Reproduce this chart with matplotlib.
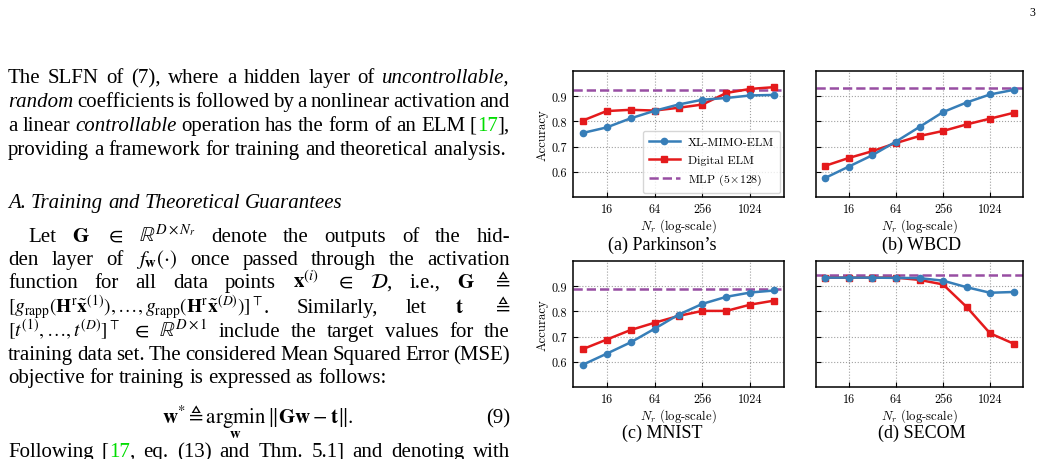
import matplotlib
matplotlib.use('Agg')
import matplotlib.pyplot as plt
from matplotlib.ticker import NullLocator

# ---------------- data ----------------
n_r = [8, 16, 32, 64, 128, 256, 512, 1024, 2048]
xtick_vals = [16, 64, 256, 1024]
xtick_labels = ['16', '64', '256', '1024']
ytick_vals = [0.6, 0.7, 0.8, 0.9]
ytick_labels = ['0.6', '0.7', '0.8', '0.9']

series_names = ['XL-MIMO-ELM', 'Digital ELM', r'MLP $(5\!\times\!128)$']
captions = ["(a) Parkinson’s", '(b) WBCD', '(c) MNIST', '(d) SECOM']

park_xl = [0.754, 0.776, 0.812, 0.842, 0.867, 0.886, 0.893, 0.903, 0.905]
park_dig = [0.803, 0.841, 0.846, 0.843, 0.854, 0.867, 0.913, 0.929, 0.936]
park_mlp = 0.924
wbcd_xl = [0.576, 0.621, 0.666, 0.720, 0.778, 0.837, 0.875, 0.907, 0.925]
wbcd_dig = [0.624, 0.655, 0.682, 0.714, 0.742, 0.762, 0.788, 0.811, 0.834]
wbcd_mlp = 0.934
mnist_xl = [0.588, 0.632, 0.677, 0.731, 0.787, 0.830, 0.858, 0.875, 0.883]
mnist_dig = [0.650, 0.688, 0.726, 0.755, 0.782, 0.802, 0.802, 0.827, 0.843]
mnist_mlp = 0.889
secom_xl = [0.934, 0.934, 0.934, 0.933, 0.932, 0.922, 0.896, 0.874, 0.877]
secom_dig = [0.934, 0.934, 0.934, 0.934, 0.925, 0.907, 0.818, 0.713, 0.672]
secom_mlp = 0.946

BLUE, RED, PURPLE = '#377eb8', '#e41a1c', '#984ea3'

plt.rcParams.update({'mathtext.fontset': 'stix', 'font.family': 'Liberation Serif'})

W, H = 1042, 460
fig = plt.figure(figsize=(W / 100, H / 100), dpi=100)


def px_axes(l, t, r, b):
    return fig.add_axes([l / W, 1 - b / H, (r - l) / W, (b - t) / H])


panels = [
    (px_axes(573, 72, 784, 198), park_xl, park_dig, park_mlp, True, (662, 245)),
    (px_axes(816, 72, 1023, 198), wbcd_xl, wbcd_dig, wbcd_mlp, False, (922, 245)),
    (px_axes(573, 262, 784, 388), mnist_xl, mnist_dig, mnist_mlp, True, (662, 433)),
    (px_axes(816, 262, 1023, 388), secom_xl, secom_dig, secom_mlp, False, (922, 433)),
]

CM = 'cmr10'
for i, (ax, xl, dig, mlp, left, cap) in enumerate(panels):
    ax.set_xscale('log', base=2)
    l2, = ax.plot(n_r, dig, color=RED, lw=1.8, marker='s', ms=4.5, zorder=3)
    l1, = ax.plot(n_r, xl, color=BLUE, lw=1.8, marker='o', ms=4.5, zorder=4)
    l3 = ax.axhline(mlp, color=PURPLE, lw=1.8, ls='--', zorder=2)
    ax.set_ylim(0.5, 1.0)
    ax.set_xticks(xtick_vals)
    ax.set_xticklabels(xtick_labels)
    ax.xaxis.set_minor_locator(NullLocator())
    ax.set_yticks(ytick_vals)
    ax.set_yticklabels(ytick_labels if left else [])
    ax.tick_params(direction='in', length=3.5, width=0.8, labelsize=8.8, pad=4.0,
                   labelfontfamily=CM)
    ax.grid(True, ls=':', color='#a0a0a0', lw=0.8)
    for s in ax.spines.values():
        s.set_linewidth(1.1)
        s.set_color('black')
    ax.set_xlabel(r'$N_r$ (log-scale)', fontfamily=CM, math_fontfamily='cm',
                  fontsize=9.2, labelpad=1.0)
    if left:
        ax.set_ylabel('Accuracy', fontfamily=CM, fontsize=9.2, labelpad=2.5)
    if i == 0:
        leg = ax.legend([l1, l2, l3], series_names, loc='lower right',
                        prop={'family': CM, 'size': 8.6}, handlelength=2.6,
                        borderaxespad=0.3, framealpha=0.8, edgecolor='#cccccc',
                        borderpad=0.5, labelspacing=0.6, handletextpad=0.7)
        for t in leg.get_texts():
            t.set_math_fontfamily('cm')
    fig.text(cap[0] / W, 1 - cap[1] / H, captions[i], ha='center', va='center',
             fontsize=13, family='Liberation Serif')

# ---------------- body text ----------------
renderer = fig.canvas.get_renderer()
BODY_FS = 15
SPACE = 5.0
GREEN = '#00dd00'


def seg_kw(st):
    kw = dict(fontsize=BODY_FS, family='Liberation Serif', color='black',
              math_fontfamily='stix')
    if 'i' in st:
        kw['style'] = 'italic'
    if 'g' in st:
        kw['color'] = GREEN
    if 's' in st:
        kw['fontsize'] = BODY_FS - 1
    return kw


def layout_line(words, x0, x1, ybase, justify):
    if isinstance(words, str):
        words = words.split(' ')
    objs, widths = [], []
    for w in words:
        if isinstance(w, str):
            w = [(w, '')]
        segs, tw = [], 0
        for txt, st in w:
            t = fig.text(0, 0, txt, va='baseline', ha='left', **seg_kw(st))
            ww = t.get_window_extent(renderer).width
            segs.append((t, ww))
            tw += ww
        objs.append(segs)
        widths.append(tw)
    total = sum(widths)
    gap = (x1 - x0 - total) / (len(words) - 1) if (justify and len(words) > 1) else SPACE
    x = x0
    for segs, tw in zip(objs, widths):
        xx = x
        for t, ww in segs:
            t.set_position((xx / W, 1 - ybase / H))
            xx += ww
        x += tw + gap


XL, XR = 8, 510
lines = [
    (83, XL, True, ['The', 'SLFN', 'of', '(7),', 'where', 'a', 'hidden', 'layer', 'of',
                    [('uncontrollable,', 'i')]]),
    (107, XL, True, [[('random', 'i')], 'coefficients', 'is', 'followed', 'by', 'a',
                     'nonlinear', 'activation', 'and']),
    (131, XL, True, ['a', 'linear', [('controllable', 'i')], 'operation', 'has', 'the',
                     'form', 'of', 'an', 'ELM', [('[', ''), ('17', 'g'), ('],', '')]]),
    (155, XL, False, 'providing a framework for training and theoretical analysis.'),
    (208, XL, False, [[(w, 'i')] for w in 'A. Training and Theoretical Guarantees'.split(' ')]),
    (242, 28, True, ['Let', r'$\mathbf{G}$', r'$\in$', r'$\mathbb{R}^{D\times N_r}$',
                     'denote', 'the', 'outputs', 'of', 'the', 'hid-']),
    (265, XL, True, ['den', 'layer', 'of', r'$f_{\mathbf{w}}(\cdot)$', 'once', 'passed',
                     'through', 'the', 'activation']),
    (288, XL, True, ['function', 'for', 'all', 'data', 'points', r'$\mathbf{x}^{(i)}$',
                     r'$\in$', r'$\mathcal{D}$,', 'i.e.,', r'$\mathbf{G}$', r'$\triangleq$']),
    (313, XL, True, [[(r'$[g_{\mathrm{rapp}}(\mathbf{H}^{\mathrm{r}}\tilde{\mathbf{x}}^{(1)}),'
                       r'\ldots,g_{\mathrm{rapp}}(\mathbf{H}^{\mathrm{r}}\tilde{\mathbf{x}}^{(D)})]^{\top}$', 's'),
                      ('.', '')],
                     'Similarly,', 'let', r'$\mathbf{t}$', r'$\triangleq$']),
    (337, XL, True, [[(r'$[t^{(1)},\ldots,t^{(D)}]^{\top}$', 's')], r'$\in$',
                     r'$\mathbb{R}^{D\times 1}$',
                     'include', 'the', 'target', 'values', 'for', 'the']),
    (360, XL, True, 'training data set. The considered Mean Squared Error (MSE)'),
    (383, XL, False, 'objective for training is expressed as follows:'),
    (457, XL, True, ['Following', [('[', ''), ('17', 'g'), (',', '')], 'eq.', '(13)', 'and',
                     'Thm.', '5.1]', 'and', 'denoting', 'with']),
]
for yb, x0, just, words in lines:
    layout_line(words, x0, XR, yb, just)

fig.text(258 / W, 1 - 423 / H,
         r'$\mathbf{w}^{*}\triangleq\underset{\mathbf{w}}{\mathrm{argmin}}\,\|\mathbf{G}\mathbf{w}-\mathbf{t}\|.$',
         ha='center', va='baseline', fontsize=BODY_FS, math_fontfamily='stix')
fig.text(XR / W, 1 - 423 / H, '(9)', ha='right', va='baseline', fontsize=BODY_FS)
fig.text(1032 / W, 1 - 13 / H, '3', ha='center', va='center', fontsize=8.5)

fig.savefig('out.png', dpi=100)
